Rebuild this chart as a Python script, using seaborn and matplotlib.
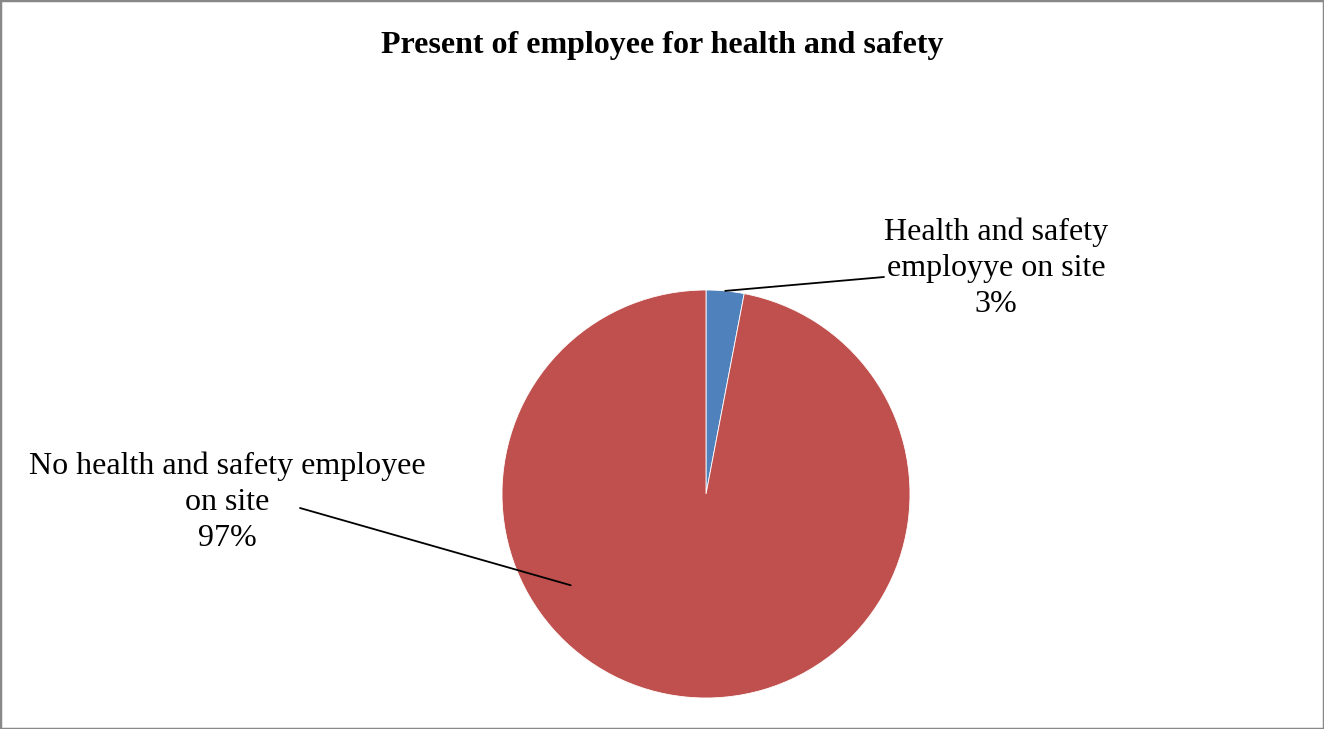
import numpy as np
import matplotlib
matplotlib.use("Agg")
import matplotlib.pyplot as plt
from matplotlib.patches import Rectangle
import seaborn as sns

# Survey result: share of sites with a dedicated health & safety employee
categories = ["Health and safety\nemployye on site", "No health and safety employee\non site"]
shares = [3, 97]
colors = ["#4F81BD", "#C0504D"]
title = "Present of employee for health and safety"

sns.set_theme(style="white")
plt.rcParams["font.family"] = ["Liberation Serif", "DejaVu Serif"]

W, H = 1324, 729
fig = plt.figure(figsize=(W / 100, H / 100), dpi=100)
ax = fig.add_axes([0, 0, 1, 1])

# pie laid out in pixel-like coordinates (y up)
cx, cy, r = 706, H - 494, 204
wedges, _ = ax.pie(shares, colors=colors, startangle=90, counterclock=False,
                   center=(cx, cy), radius=r,
                   wedgeprops=dict(edgecolor="white", linewidth=0.6))
ax.set_xlim(0, W)
ax.set_ylim(0, H)
ax.set_aspect("auto")
ax.axis("off")

total = sum(shares)
labels = [f"{c}\n{round(v / total * 100)}%" for c, v in zip(categories, shares)]

# label placement: (text centre, leader-line anchor angle/radius fraction, line end)
label_pos = [(996, H - 268), (227, H - 502)]
line_end = [(884, H - 277), (300, H - 508)]
anchor = [None, (236.0, 0.80)]

start = 0.0
for i, v in enumerate(shares):
    frac = v / total * 360
    if anchor[i] is None:
        ang, rf = start + frac / 2, 1.0
    else:
        ang, rf = anchor[i]
    start += frac
    th = np.deg2rad(ang)
    ax_, ay_ = cx + rf * r * np.sin(th), cy + rf * r * np.cos(th)
    ax.plot([ax_, line_end[i][0]], [ay_, line_end[i][1]], color="black", lw=1.3)
    ax.text(label_pos[i][0], label_pos[i][1], labels[i], ha="center", va="center",
            fontsize=23, linespacing=1.31, color="black")

fig.text(0.5, 1 - 45 / H, title, ha="center", va="center",
         fontsize=23, fontweight="bold", color="black")

fig.patches.append(Rectangle((0, 0), 1, 1, transform=fig.transFigure, fill=False,
                             edgecolor="#888888", linewidth=2.5, zorder=10))

fig.savefig("out.png", dpi=100, facecolor="white")
